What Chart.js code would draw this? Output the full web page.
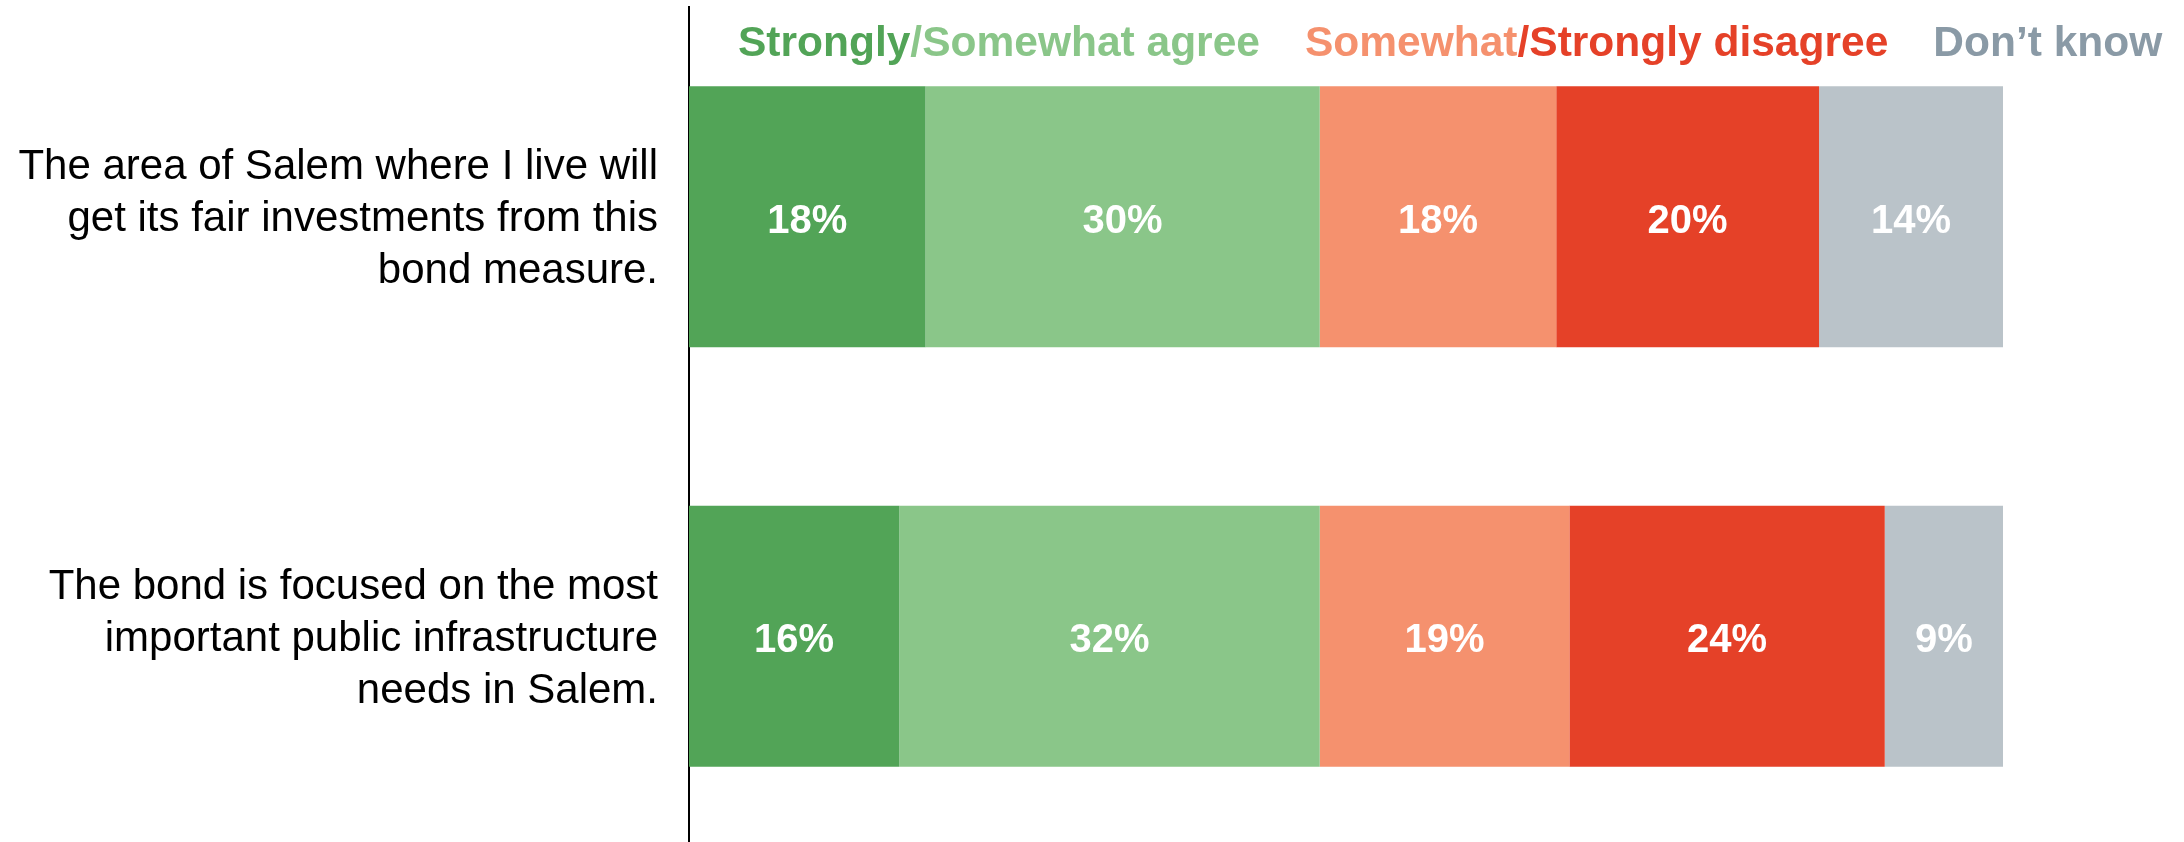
<!DOCTYPE html>
<html>

<head>
  <title>Salem bond measure - agreement</title>
  <script src="https://cdn.jsdelivr.net/npm/chart.js"></script>
  <style>
    body { margin: 0; overflow: hidden; background: #fff; }
    #wrap { position: relative; width: 2184px; height: 846px; }
  </style>
</head>

<body>
  <div id="wrap">
    <canvas id="chart"></canvas>
  </div>

  <script>
    // statements shown on the left, one line per array entry
    const questions = [
      ['The area of Salem where I live will', 'get its fair investments from this', 'bond measure.'],
      ['The bond is focused on the most', 'important public infrastructure', 'needs in Salem.']
    ];

    // answer shares (%) for each statement
    const stronglyAgree = [18, 16];
    const somewhatAgree = [30, 32];
    const somewhatDisagree = [18, 19];
    const stronglyDisagree = [20, 24];
    const dontKnow = [14, 9];

    const seriesNames = ['Strongly agree', 'Somewhat agree', 'Somewhat disagree', 'Strongly disagree', "Don't know"];

    // legend at the top is written in groups of coloured pieces
    const legendGroups = [
      ['Strongly', '/Somewhat agree'],
      ['Somewhat', '/Strongly disagree'],
      ['Don\u2019t know']
    ];

    const colors = ['#52a457', '#8ac689', '#f5916e', '#e54128', '#bac3c9'];
    const legendColors = [['#52a457', '#8ac689'], ['#f5916e', '#e54128'], ['#8a9aa6']];
    const FONT = '"Liberation Sans", Arial, sans-serif';

    // writes the percentage in the middle of every segment
    const valueLabels = {
      id: 'valueLabels',
      afterDatasetsDraw(chart) {
        const ctx = chart.ctx;
        ctx.save();
        ctx.font = 'bold 40px ' + FONT;
        ctx.fillStyle = '#fff';
        ctx.textAlign = 'center';
        ctx.textBaseline = 'middle';
        chart.data.datasets.forEach((ds, i) => {
          chart.getDatasetMeta(i).data.forEach((bar, j) => {
            const p = bar.getCenterPoint();
            ctx.fillText(ds.data[j] + '%', p.x, p.y + 5);
          });
        });
        ctx.restore();
      }
    };

    // the two-colour legend across the top
    const topLegend = {
      id: 'topLegend',
      afterDraw(chart) {
        const ctx = chart.ctx;
        ctx.save();
        ctx.font = 'bold 42.5px ' + FONT;
        ctx.textBaseline = 'alphabetic';
        let x = 738;
        legendGroups.forEach((group, g) => {
          group.forEach((piece, k) => {
            ctx.fillStyle = legendColors[g][k];
            ctx.fillText(piece, x, 56);
            x += ctx.measureText(piece).width;
          });
          x += 45;
        });
        ctx.restore();
      }
    };

    const datasets = [stronglyAgree, somewhatAgree, somewhatDisagree, stronglyDisagree, dontKnow].map((vals, i) => ({
      label: seriesNames[i],
      data: vals,
      backgroundColor: colors[i],
      borderWidth: 0,
      barPercentage: 1,
      categoryPercentage: 0.622
    }));

    new Chart(document.getElementById('chart'), {
      type: 'bar',
      data: { labels: questions, datasets: datasets },
      options: {
        indexAxis: 'y',
        responsive: true,
        maintainAspectRatio: false,
        animation: false,
        layout: { padding: { top: 7, right: 181, bottom: 0, left: 0 } },
        plugins: {
          legend: { display: false },
          tooltip: { enabled: false }
        },
        scales: {
          x: {
            stacked: true,
            display: false,
            min: 0,
            max: 100
          },
          y: {
            stacked: true,
            grid: { display: false },
            border: { display: true, color: '#000', width: 2 },
            ticks: {
              color: '#000',
              padding: 23,
              labelOffset: 3,
              font: { family: FONT, size: 42, lineHeight: 1.24 }
            },
            afterFit(scale) {
              scale.width = 689;
              // labels sit mid-band, so no extra room is needed above/below
              scale.paddingTop = 0;
              scale.paddingBottom = 0;
            }
          }
        }
      },
      plugins: [valueLabels, topLegend]
    });
  </script>
</body>

</html>
